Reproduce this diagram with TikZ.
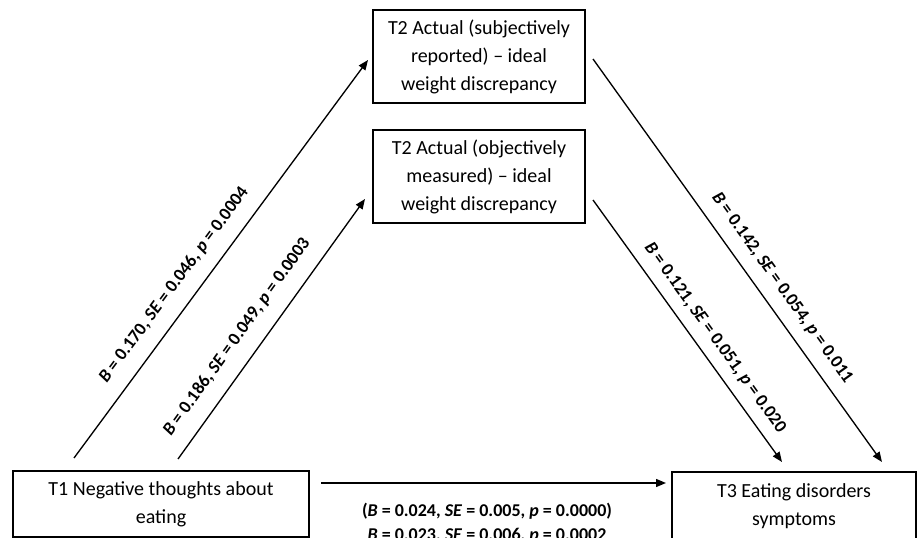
\documentclass[tikz,border=0pt]{standalone}
\usepackage{fontspec}
\setmainfont{Carlito}
\usetikzlibrary{arrows.meta}
\begin{document}
\begin{tikzpicture}[x=0.75pt,y=-0.75pt,
  box/.style={draw, line width=1.2pt, inner sep=0pt, align=center, font=\fontsize{15}{21}\selectfont},
  arr/.style={line width=1pt, -{Triangle[length=7.5pt,width=6pt]}},
  lab/.style={font=\fontsize{13.5}{16.5}\selectfont\bfseries, inner sep=0pt}]
\clip (0,0) rectangle (918,538);
\fill[white] (0,0) rectangle (918,538);
% boxes
\node[box, minimum width=159pt, minimum height=69.75pt] (subj) at (479,56.5)
  {T2 Actual (subjectively\\reported) – ideal\\weight discrepancy};
\node[box, minimum width=159pt, minimum height=69.75pt] (obj) at (479,176.5)
  {T2 Actual (objectively\\measured) – ideal\\weight discrepancy};
\node[box, minimum width=222pt, minimum height=49.5pt] (t1) at (161,504)
  {T1 Negative thoughts about\\eating};
\node[box, minimum width=183pt, minimum height=51pt] (t3) at (794,506)
  {T3 Eating disorders\\symptoms};
% connector end points
\coordinate (s1) at (74,458);  \coordinate (e1) at (368,60);
\coordinate (s2) at (178,459); \coordinate (e2) at (365,199);
\coordinate (s3) at (593,59);  \coordinate (e3) at (882,462);
\coordinate (s4) at (593,200); \coordinate (e4) at (782,462);
\coordinate (s5) at (321,483); \coordinate (e5) at (666,483);
\draw[arr] (s1) -- (e1);
\draw[arr] (s2) -- (e2);
\draw[arr] (s3) -- (e3);
\draw[arr] (s4) -- (e4);
\draw[arr] (s5) -- (e5);
% labels
\node[lab, rotate=53.5] (l1) at (174,285) {\textit{B} = 0.170, \textit{SE} = 0.046, \textit{p} = 0.0004};
\node[lab, rotate=54.3] (l2) at (237,337) {\textit{B} = 0.186, \textit{SE} = 0.049, \textit{p} = 0.0003};
\node[lab, rotate=-54.4] (l3) at (782,288) {\textit{B} = 0.142, \textit{SE} = 0.054, \textit{p} = 0.011};
\node[lab, rotate=-54.2] (l4) at (715,338) {\textit{B} = 0.121, \textit{SE} = 0.051, \textit{p} = 0.020};
\node[lab] (l5) at (487,511) {(\textit{B} = 0.024, \textit{SE} = 0.005, \textit{p} = 0.0000)};
\node[lab] (l6) at (487,536) {\textit{B} = 0.023, \textit{SE} = 0.006, \textit{p} = 0.0002};
\end{tikzpicture}
\end{document}
